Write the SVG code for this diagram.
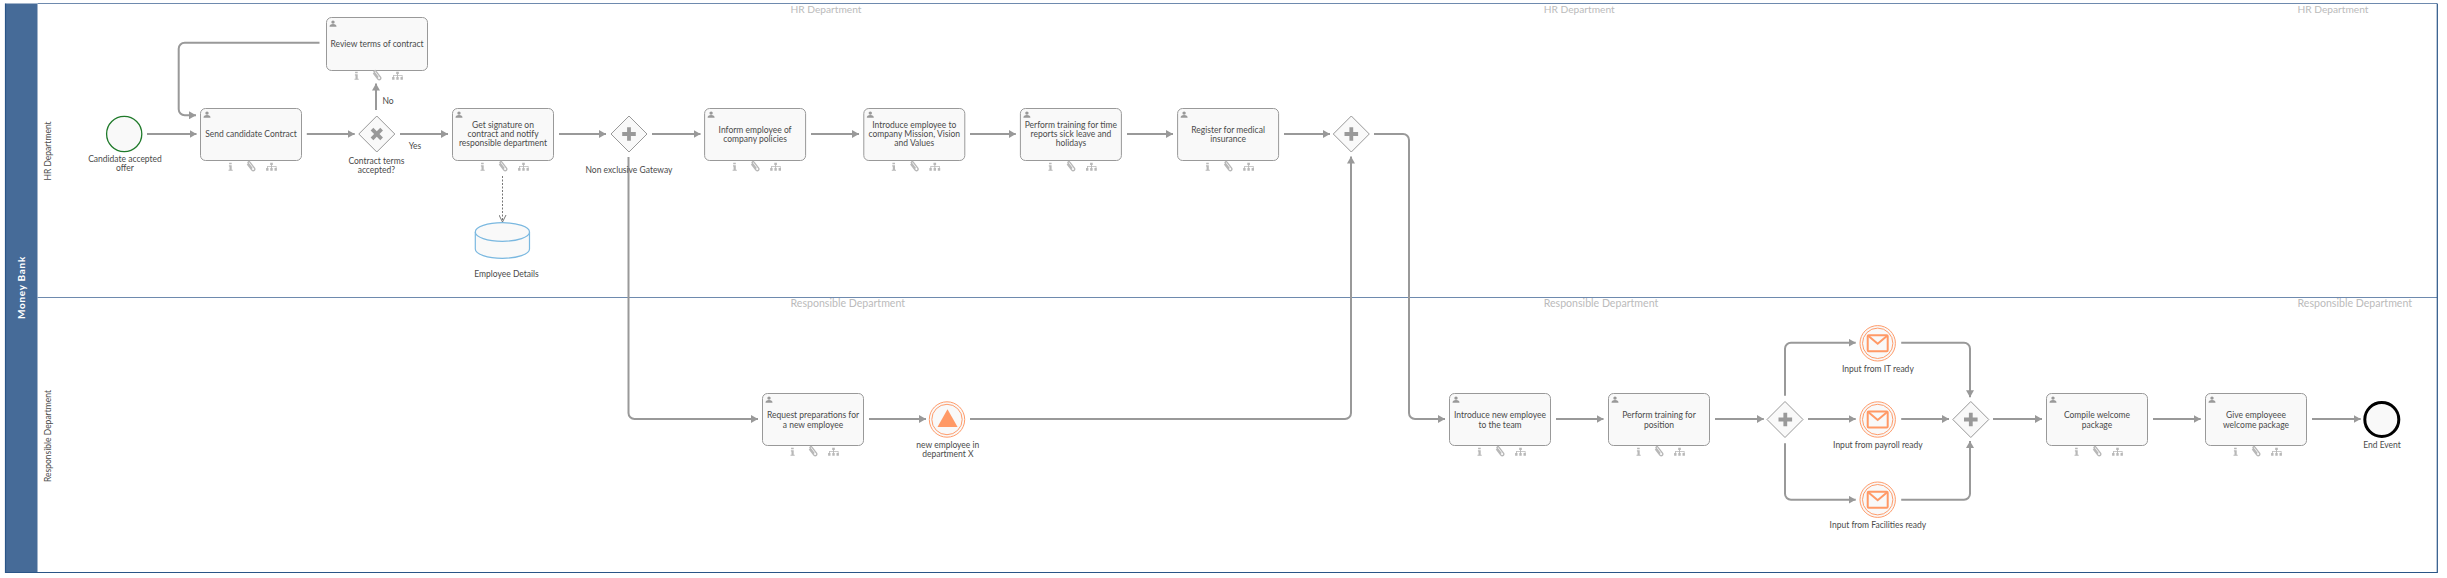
<svg xmlns="http://www.w3.org/2000/svg" xmlns:xlink="http://www.w3.org/1999/xlink" width="2447" height="578" viewBox="0 0 2447 578">
<style>
text{font-family:"Lato","Noto Sans","Liberation Sans",sans-serif;font-size:8.5px;fill:#4a4a4a;text-anchor:middle}
.band{fill:#466b98}
.edge{fill:none;stroke:#2a5587;stroke-width:1.2}
.lane{stroke:#6e8aae;stroke-width:1.2;fill:none}
.wm{font-size:10.6px;fill:#bbb;text-anchor:start}
.wh{font-size:10.2px;fill:#bbb;text-anchor:start}
.task{fill:#f9f9f9;stroke:#999;stroke-width:1}
.gw{fill:#f9f9f9;stroke:#999;stroke-width:1}
.mk{fill:#999}
.ev{fill:#f9f9f9;stroke:#ff9c6b;stroke-width:1}
.flow{fill:none;stroke:#999;stroke-width:2;marker-end:url(#arrow)}
.ic{fill:#b8b8b8}
.icl{fill:none;stroke:#b8b8b8;stroke-width:1.4}
.env{fill:#f9f9f9;stroke:#ff9966;stroke-width:2}
</style>
<defs>
<marker id="arrow" markerUnits="userSpaceOnUse" markerWidth="7" markerHeight="8" refX="7" refY="4" orient="auto"><path d="M0 0L7 4L0 8Z" fill="#999"/></marker>
<marker id="open" markerUnits="userSpaceOnUse" markerWidth="8" markerHeight="8" refX="7.5" refY="4" orient="auto"><path d="M0.5 0.5L7.5 4L0.5 7.5" fill="none" stroke="#777" stroke-width="1"/></marker>
<g id="deco">
<circle cx="6.5" cy="4.6" r="1.7" fill="#999"/><path d="M3 9.2a3.5 2.6 0 0 1 7 0Z" fill="#999"/>
<g transform="translate(0,0.6)">
<path class="ic" d="M28.6 53.6h2.6v1.6h-2.6ZM28.4 56.2h2.8v4.4h1v1.1h-4.2v-1.1h1v-3.3h-.6Z"/>
<path class="icl" d="M46.8 55l4.6 6a1.6 1.6 0 0 0 2.6-2l-4.6-6a1 1 0 0 0-1.7 1.2l4 5.2"/>
<path class="ic" d="M69.7 53.6h2.6v2.4h-.8v1h4.5v1.8h-.7v-1.1h-3.8v1.1h-.9v-1.1h-3.2v1.1h-.8v-1.8h4v-1h-.9ZM65.6 59h2.4v2.6h-2.4ZM69.8 59h2.4v2.6h-2.4ZM74 59h2.4v2.6h-2.4Z"/>
</g>
</g>
<g id="plus"><path class="mk" d="M-1.9-6.8h3.8v4.9h4.9v3.8H1.9v4.9h-3.8V1.9h-4.9v-3.8h4.9Z"/></g>
<g id="msg"><circle class="ev" r="17.7"/><circle class="ev" r="15.2"/><rect class="env" x="-10" y="-8" width="20" height="16" rx="1"/><path d="M-9.5-7.5L0 0.5L9.5-7.5" fill="none" stroke="#ff9966" stroke-width="2"/></g>
</defs>

<g id="pool">
<rect class="band" x="5.5" y="3.5" width="32" height="569"/>
<path class="lane" d="M37.5 3.5H2437M37.5 297.5H2437"/>
<path class="edge" d="M5.5 3.5V572.5H2437.3V3.5"/>
<text transform="translate(25,287.5) rotate(-90)" style="font-size:10px;letter-spacing:.7px;fill:#fff;font-weight:700">Money Bank</text>
<text transform="translate(51,151) rotate(-90)">HR Department</text>
<text transform="translate(51,436) rotate(-90)">Responsible Department</text>
<text class="wh" x="790.5" y="12.5">HR Department</text>
<text class="wh" x="1543.7" y="12.5">HR Department</text>
<text class="wh" x="2297.5" y="12.5">HR Department</text>
<text class="wm" x="790.5" y="306.5">Responsible Department</text>
<text class="wm" x="1543.7" y="306.5">Responsible Department</text>
<text class="wm" x="2297.5" y="306.5">Responsible Department</text>
</g>

<g id="connectors">
<path class="flow" d="M147 134H196.5"/>
<path class="flow" d="M306.8 134H354.7"/>
<path class="flow" d="M376 110V83.5"/>
<path class="flow" d="M319.5 42.7H184.7a6 6 0 0 0-6 6V109.3a6 6 0 0 0 6 6H196"/>
<path class="flow" d="M400 134H448"/>
<path d="M502.5 176V222" fill="none" stroke="#777" stroke-width="1" stroke-dasharray="2 1.5" marker-end="url(#open)"/>
<path class="flow" d="M559 134H606"/>
<path class="flow" d="M652 134H700.5"/>
<path class="flow" d="M811 134H859"/>
<path class="flow" d="M970 134H1015.8"/>
<path class="flow" d="M1127 134H1173"/>
<path class="flow" d="M1284 134H1330"/>
<path class="flow" d="M628.5 157V413a6 6 0 0 0 6 6H758"/>
<path class="flow" d="M869 419H926"/>
<path class="flow" d="M970 419H1345a6 6 0 0 0 6-6V156.5"/>
<path class="flow" d="M1374 134H1403a6 6 0 0 1 6 6V413a6 6 0 0 0 6 6H1445"/>
<path class="flow" d="M1556 419H1603.5"/>
<path class="flow" d="M1715 419H1763.8"/>
<path class="flow" d="M1785 395.7V348.7a6 6 0 0 1 6-6H1855.7"/>
<path class="flow" d="M1808 419H1855.7"/>
<path class="flow" d="M1785 443.3V493.7a6 6 0 0 0 6 6H1855.7"/>
<path class="flow" d="M1901.2 342.7H1964a6 6 0 0 1 6 6V397.3"/>
<path class="flow" d="M1901.2 419H1949"/>
<path class="flow" d="M1901.2 499.7H1964a6 6 0 0 0 6-6V441"/>
<path class="flow" d="M1993 419H2042"/>
<path class="flow" d="M2153 419H2200.7"/>
<path class="flow" d="M2312 419H2360.7"/>
</g>

<g id="start">
<circle cx="124.2" cy="134" r="17.6" fill="#f9f9f9" stroke="#1f7a2a" stroke-width="1.3"/>
<text x="125" y="162.3">Candidate accepted</text><text x="125" y="171.3">offer</text>
</g>
<g id="send-contract" transform="translate(200.5,108.5)">
<rect class="task" width="101" height="52" rx="5"/><use href="#deco"/>
<text x="50.5" y="28.5">Send candidate Contract</text>
</g>
<g id="review-terms" transform="translate(326.5,17.5)">
<rect class="task" width="101" height="53" rx="5"/><use href="#deco"/>
<text x="50.5" y="29.8">Review terms of contract</text>
</g>
<g id="gw-terms">
<path class="gw" d="M376.8 116L394.8 134L376.8 152L358.8 134Z"/>
<use href="#plus" transform="translate(376.8,134) rotate(45)"/>
<text x="376.4" y="164.3">Contract terms</text><text x="376.4" y="173.3">accepted?</text>
</g>
<text id="label-no" x="388" y="104">No</text>
<text id="label-yes" x="415" y="149">Yes</text>
<g id="get-signature" transform="translate(452.5,108.5)">
<rect class="task" width="101" height="52" rx="5"/><use href="#deco"/>
<text x="50.5" y="19.8">Get signature on</text><text x="50.5" y="28.8">contract and notify</text><text x="50.5" y="37.8">responsible department</text>
</g>
<g id="employee-details">
<path d="M475.3 232V249a27.1 9.3 0 0 0 54.2 0V232" fill="#f9f9f9" stroke="#7ab8e0" stroke-width="1.2"/>
<ellipse cx="502.4" cy="232" rx="27.1" ry="9.3" fill="#f9f9f9" stroke="#7ab8e0" stroke-width="1.2"/>
<text x="506.5" y="277">Employee Details</text>
</g>
<g id="gw-split">
<path class="gw" d="M629 116L647 134L629 152L611 134Z"/>
<use href="#plus" transform="translate(629,134)"/>
<text x="629" y="173">Non exclusive Gateway</text>
</g>
<g id="inform-policies" transform="translate(704.6,108.5)">
<rect class="task" width="101" height="52" rx="5"/><use href="#deco"/>
<text x="50.5" y="24.8">Inform employee of</text><text x="50.5" y="33.8">company policies</text>
</g>
<g id="introduce-mission" transform="translate(863.8,108.5)">
<rect class="task" width="101" height="52" rx="5"/><use href="#deco"/>
<text x="50.5" y="19.8">Introduce employee to</text><text x="50.5" y="28.8">company Mission, Vision</text><text x="50.5" y="37.8">and Values</text>
</g>
<g id="training-time" transform="translate(1020.4,108.5)">
<rect class="task" width="101" height="52" rx="5"/><use href="#deco"/>
<text x="50.5" y="19.8">Perform training for time</text><text x="50.5" y="28.8">reports sick leave and</text><text x="50.5" y="37.8">holidays</text>
</g>
<g id="register-insurance" transform="translate(1177.6,108.5)">
<rect class="task" width="101" height="52" rx="5"/><use href="#deco"/>
<text x="50.5" y="24.8">Register for medical</text><text x="50.5" y="33.8">insurance</text>
</g>
<g id="gw-join">
<path class="gw" d="M1351.3 116L1369.3 134L1351.3 152L1333.3 134Z"/>
<use href="#plus" transform="translate(1351.3,134)"/>
</g>
<g id="request-preparations" transform="translate(762.5,393.5)">
<rect class="task" width="101" height="52" rx="5"/><use href="#deco"/>
<text x="50.5" y="24.5">Request preparations for</text><text x="50.5" y="34.8">a new employee</text>
</g>
<g id="signal-new-employee">
<circle class="ev" cx="947" cy="419.5" r="17.7"/><circle class="ev" cx="947" cy="419.5" r="15.2"/>
<path d="M947.5 409.3L957.6 427H937.5Z" fill="#ff9966"/>
<text x="947.8" y="448.3">new employee in</text><text x="947.8" y="457.3">department X</text>
</g>
<g id="introduce-team" transform="translate(1449.5,393.5)">
<rect class="task" width="101" height="52" rx="5"/><use href="#deco"/>
<text x="50.5" y="24.5">Introduce new employee</text><text x="50.5" y="34.8">to the team</text>
</g>
<g id="training-position" transform="translate(1608.5,393.5)">
<rect class="task" width="101" height="52" rx="5"/><use href="#deco"/>
<text x="50.5" y="24.5">Perform training for</text><text x="50.5" y="34.8">position</text>
</g>
<g id="gw-inputs">
<path class="gw" d="M1785 401.5L1803 419.5L1785 437.5L1767 419.5Z"/>
<use href="#plus" transform="translate(1785.3,419.5)"/>
</g>
<g id="input-it">
<use href="#msg" x="1877.7" y="343.3"/><text x="1877.9" y="372.3">Input from IT ready</text>
</g>
<g id="input-payroll">
<use href="#msg" x="1877.7" y="419.5"/><text x="1877.9" y="448">Input from payroll ready</text>
</g>
<g id="input-facilities">
<use href="#msg" x="1877.7" y="499.7"/><text x="1877.9" y="528">Input from Facilities ready</text>
</g>
<g id="gw-merge">
<path class="gw" d="M1970.8 401.5L1988.8 419.5L1970.8 437.5L1952.8 419.5Z"/>
<use href="#plus" transform="translate(1970.8,419.5)"/>
</g>
<g id="compile-package" transform="translate(2046.5,393.5)">
<rect class="task" width="101" height="52" rx="5"/><use href="#deco"/>
<text x="50.5" y="24.5">Compile welcome</text><text x="50.5" y="34.8">package</text>
</g>
<g id="give-package" transform="translate(2205.5,393.5)">
<rect class="task" width="101" height="52" rx="5"/><use href="#deco"/>
<text x="50.5" y="24.5">Give employeee</text><text x="50.5" y="34.8">welcome package</text>
</g>
<g id="end">
<circle cx="2381.8" cy="419.5" r="17" fill="#f9f9f9" stroke="#000" stroke-width="3"/>
<text x="2382" y="448">End Event</text>
</g>
</svg>
